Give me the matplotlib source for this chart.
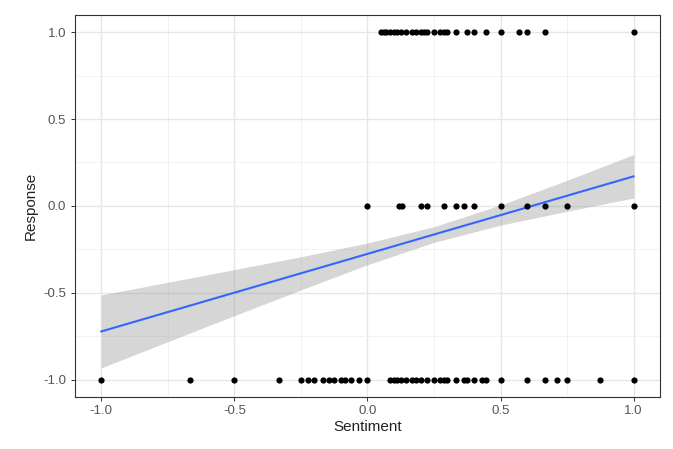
import matplotlib
matplotlib.use("Agg")
import matplotlib.pyplot as plt
from matplotlib.ticker import MultipleLocator

# responses at +1, 0, -1 against sentiment score
pos_x = [0.05, 0.0625, 0.071, 0.083, 0.1, 0.111, 0.125, 0.143, 0.167, 0.182, 0.2,
         0.214, 0.222, 0.25, 0.273, 0.286, 0.3, 0.333, 0.375, 0.4, 0.444, 0.5,
         0.571, 0.6, 0.667, 1.0]
neu_x = [0.0, 0.118, 0.13, 0.2, 0.222, 0.286, 0.333, 0.364, 0.4, 0.5, 0.6, 0.667,
         0.75, 1.0]
neg_x = [-1.0, -0.667, -0.5, -0.333, -0.25, -0.222, -0.2, -0.167, -0.143, -0.125,
         -0.1, -0.083, -0.0625, -0.033, 0.0, 0.083, 0.1, 0.111, 0.125, 0.143, 0.167,
         0.182, 0.2, 0.222, 0.25, 0.273, 0.286, 0.3, 0.333, 0.364, 0.375, 0.4, 0.429,
         0.444, 0.5, 0.6, 0.667, 0.714, 0.75, 0.875, 1.0]

# lm fit line and 95% band
fit_x = [-1.0, 1.0]
fit_y = [-0.723, 0.170]
band_x = [-1.0, -0.75, -0.5, -0.25, 0.0, 0.25, 0.5, 0.75, 1.0]
band_lo = [-0.933, -0.782, -0.632, -0.484, -0.339, -0.210, -0.111, -0.031, 0.045]
band_hi = [-0.513, -0.440, -0.367, -0.293, -0.214, -0.120, 0.005, 0.147, 0.295]

plt.rcParams["font.family"] = ["Liberation Sans", "DejaVu Sans"]
fig = plt.figure(figsize=(6.73, 4.49), dpi=100)
ax = fig.add_axes([0.111, 0.116, 0.870, 0.851])

ax.fill_between(band_x, band_lo, band_hi, color="#999999", alpha=0.4, lw=0, zorder=2)
ax.plot(fit_x, fit_y, color="#3366FF", lw=1.5, zorder=3)
for xs, yv in [(pos_x, 1.0), (neu_x, 0.0), (neg_x, -1.0)]:
    ax.scatter(xs, [yv] * len(xs), s=20, color="black", lw=0, zorder=4)

ax.set_xlim(-1.1, 1.1); ax.set_ylim(-1.1, 1.1)
ax.xaxis.set_major_locator(MultipleLocator(0.5)); ax.yaxis.set_major_locator(MultipleLocator(0.5))
ax.xaxis.set_minor_locator(MultipleLocator(0.25)); ax.yaxis.set_minor_locator(MultipleLocator(0.25))
ax.xaxis.set_major_formatter(lambda v, p: f"{v:.1f}")
ax.yaxis.set_major_formatter(lambda v, p: f"{v:.1f}")
ax.grid(True, which="major", color="#E6E6E6", lw=1.0, zorder=0)
ax.grid(True, which="minor", color="#F0F0F0", lw=0.6, zorder=0)
ax.set_axisbelow(True)
ax.tick_params(which="major", length=3, width=0.7, color="#333333",
               labelsize=9.5, labelcolor="#555555", pad=3)
ax.tick_params(which="minor", length=0)
for sp in ax.spines.values():
    sp.set_color("#333333"); sp.set_linewidth(0.8)
ax.set_xlabel("Sentiment", fontsize=11, color="#222222", labelpad=2)
ax.set_ylabel("Response", fontsize=11, color="#222222", labelpad=4)

fig.savefig("out.png", dpi=100)
